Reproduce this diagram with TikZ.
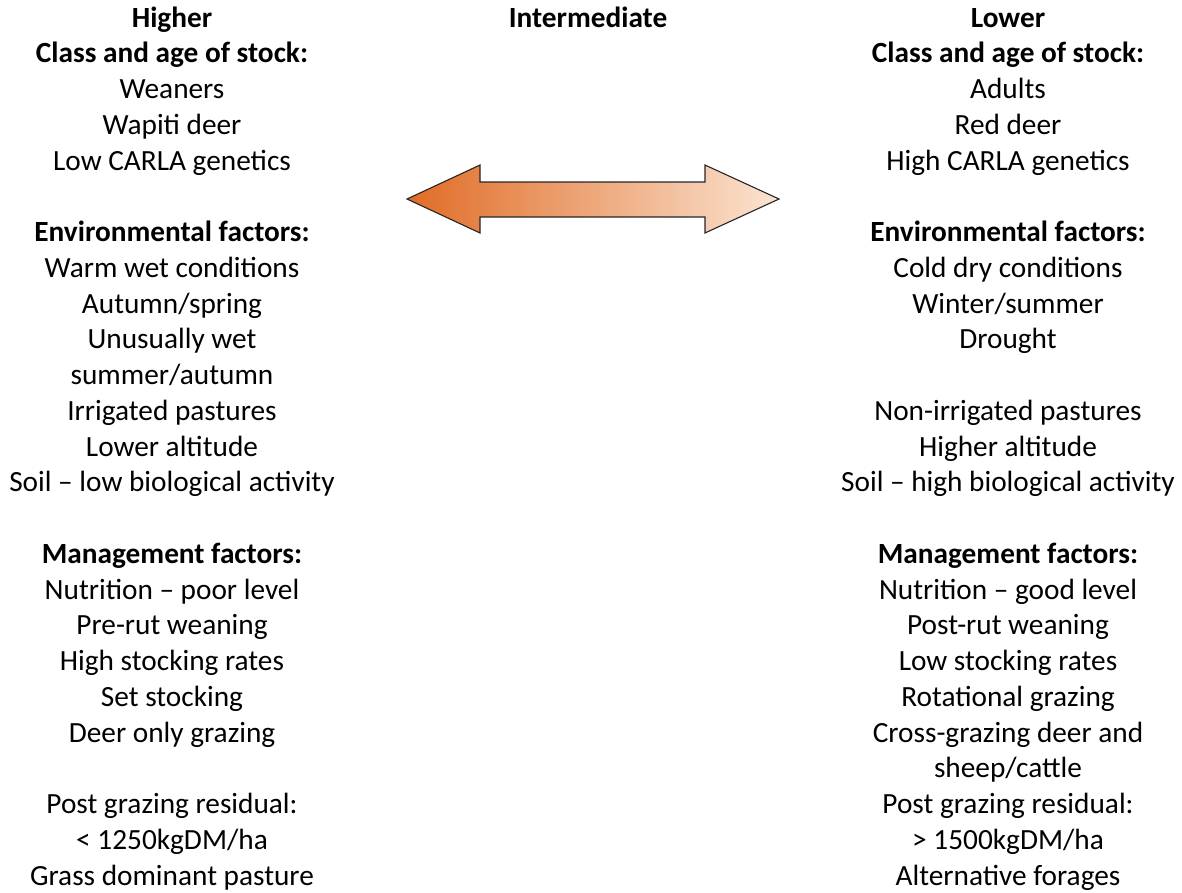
\documentclass[tikz,border=0pt]{standalone}
\usepackage{fontspec}
\setmainfont{Carlito}
\begin{document}
\begin{tikzpicture}[x=1pt,y=1pt,
  col/.style={anchor=north, inner sep=0pt, align=center, text=black,
    font=\fontsize{29.3}{35.75}\selectfont},
  arrowshape/.style={left color=arrowdark, right color=arrowlight, draw=black!85, line width=1.1pt, line join=miter}]
\definecolor{arrowdark}{RGB}{224,108,38}
\definecolor{arrowlight}{RGB}{251,228,210}
\useasboundingbox (0,0) rectangle (1182,-892);
\node[col] (left) at (172,-1.9) {\strut\textbf{Higher}\\
\textbf{Class and age of stock:}\\
Weaners\\
Wapiti deer\\
Low CARLA genetics\\
\strut\\
\textbf{Environmental factors:}\\
Warm wet conditions\\
Autumn/spring\\
Unusually wet\\
summer/autumn\\
Irrigated pastures\\
Lower altitude\\
Soil – low biological activity\\
\strut\\
\textbf{Management factors:}\\
Nutrition – poor level\\
Pre-rut weaning\\
High stocking rates\\
Set stocking\\
Deer only grazing\\
\strut\\
Post grazing residual:\\
< 1250kgDM/ha\\
Grass dominant pasture};
\node[col] (mid) at (588,-1.9) {\strut\textbf{Intermediate}};
\node[col] (right) at (1008,-1.9) {\strut\textbf{Lower}\\
\textbf{Class and age of stock:}\\
Adults\\
Red deer\\
High CARLA genetics\\
\strut\\
\textbf{Environmental factors:}\\
Cold dry conditions\\
Winter/summer\\
Drought\\
\strut\\
Non-irrigated pastures\\
Higher altitude\\
Soil – high biological activity\\
\strut\\
\textbf{Management factors:}\\
Nutrition – good level\\
Post-rut weaning\\
Low stocking rates\\
Rotational grazing\\
Cross-grazing deer and\\
sheep/cattle\\
Post grazing residual:\\
> 1500kgDM/ha\\
Alternative forages};
\shade[arrowshape] (407,-199) -- (480,-165) -- (480,-182) -- (705,-182) -- (705,-165)
  -- (779,-199) -- (705,-233) -- (705,-217) -- (480,-217) -- (480,-233) -- cycle;
\end{tikzpicture}
\end{document}
